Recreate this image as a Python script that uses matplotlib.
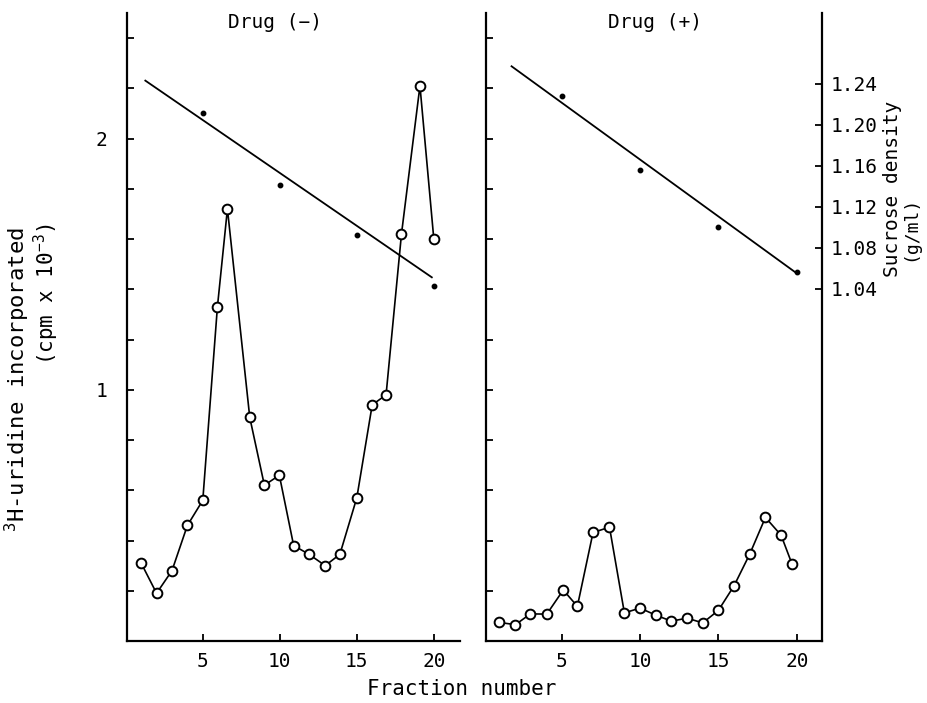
import matplotlib
matplotlib.use('Agg')
import matplotlib.pyplot as plt
import numpy as np

plt.rcParams['font.family'] = ['DejaVu Sans Mono']
plt.rcParams['mathtext.fontset'] = 'custom'
plt.rcParams['mathtext.rm'] = 'DejaVu Sans Mono'
plt.rcParams['mathtext.default'] = 'rm'

# ---- data ----
frac_minus = [1, 2, 3, 4, 5, 5.95, 6.6, 8.05, 9, 9.97, 10.9, 11.9, 12.95, 13.9, 15, 16, 16.9, 17.9, 19.1, 20]
cpm_minus = [0.31, 0.19, 0.28, 0.46, 0.56, 1.33, 1.72, 0.89, 0.62, 0.66, 0.38, 0.345, 0.30, 0.345, 0.57,
             0.94, 0.98, 1.62, 2.21, 1.60]
frac_plus = [1, 2.05, 3, 4.05, 5.1, 6, 7, 8.05, 9, 10, 11, 12, 13, 14, 15, 16, 17, 18, 19, 19.7]
cpm_plus = [0.074, 0.065, 0.108, 0.107, 0.203, 0.138, 0.432, 0.453, 0.112, 0.131, 0.103, 0.079, 0.091,
            0.072, 0.122, 0.22, 0.346, 0.492, 0.421, 0.306]

dens_frac = [5, 10, 15, 20]
dens_minus = [1.211, 1.141, 1.092, 1.043]
dens_plus = [1.228, 1.156, 1.100, 1.056]
fit_frac_minus = [1.27, 19.87]
fit_minus = [1.243, 1.051]
fit_frac_plus = [1.8, 19.9]
fit_plus = [1.257, 1.056]

cpm_ticks = [0.2, 0.4, 0.6, 0.8, 1.0, 1.2, 1.4, 1.6, 1.8, 2.0, 2.2, 2.4]
cpm_ticklabels = ['', '', '', '', '1', '', '', '', '', '2', '', '']
dens_ticks = [1.04, 1.08, 1.12, 1.16, 1.20, 1.24]
dens_ticklabels = ['1.04', '1.08', '1.12', '1.16', '1.20', '1.24']
x_ticks = [5, 10, 15, 20]

W, H = 928, 703
fig = plt.figure(figsize=(W / 100, H / 100), dpi=100)

def px_axes(x0, x1, y0, y1):
    return fig.add_axes([x0 / W, 1 - y1 / H, (x1 - x0) / W, (y1 - y0) / H])

axL = px_axes(127, 460, 13, 641)
axR = px_axes(486, 822, 13, 641)

YLIM = (0, 2.5)
DLIM = (0.696, 1.309)

for ax, xl, fx, fy, dx, dy, lx, ly in [
        (axL, (0.08, 21.7), frac_minus, cpm_minus, dens_frac, dens_minus, fit_frac_minus, fit_minus),
        (axR, (0.17, 21.61), frac_plus, cpm_plus, dens_frac, dens_plus, fit_frac_plus, fit_plus)]:
    ax.set_xlim(*xl)
    ax.set_ylim(*YLIM)
    ax.plot(fx, fy, '-o', color='black', lw=1.2, ms=7, mfc='white', mec='black', mew=1.4,
            zorder=3)
    for s in ['top', 'right']:
        ax.spines[s].set_visible(False)
    for s in ['left', 'bottom']:
        ax.spines[s].set_linewidth(1.6)
    ax.set_xticks(x_ticks)
    ax.set_xticklabels([str(t) for t in x_ticks])
    ax.set_yticks(cpm_ticks)
    ax.set_yticklabels(cpm_ticklabels)
    ax.tick_params(direction='in', length=5, width=1.3, labelsize=14)
    ax.tick_params(axis='x', pad=8)
    ax.tick_params(axis='y', pad=14)

    tw = ax.twinx()
    tw.set_ylim(*DLIM)
    tw.set_xlim(*xl)
    tw.plot(lx, ly, '-', color='black', lw=1.3)
    tw.plot(dx, dy, 'o', color='black', ms=3.2)
    for s in ['top', 'left', 'bottom']:
        tw.spines[s].set_visible(False)
    if ax is axR:
        tw.spines['right'].set_linewidth(1.6)
        tw.set_yticks(dens_ticks)
        tw.set_yticklabels(dens_ticklabels)
        tw.tick_params(direction='in', length=5, width=1.3, labelsize=14, pad=6)
    else:
        tw.spines['right'].set_visible(False)
        tw.set_yticks([])

axR.set_yticklabels([''] * len(cpm_ticks))

fig.text(275 / W, 1 - 23 / H, 'Drug (\u2212)', ha='center', va='center', fontsize=14)
fig.text(655 / W, 1 - 22 / H, 'Drug (+)', ha='center', va='center', fontsize=14)
fig.text(462 / W, 1 - 689 / H, 'Fraction number', ha='center', va='center', fontsize=15)
fig.text(17 / W, 1 - 380 / H, '$^{3}$H-uridine incorporated', ha='center', va='center',
         rotation=90, fontsize=16)
fig.text(46 / W, 1 - 294 / H, '(cpm x 10$^{-3}$)', ha='center', va='center',
         rotation=90, fontsize=15)
fig.text(893 / W, 1 - 189 / H, 'Sucrose density', ha='center', va='center',
         rotation=90, fontsize=14)
fig.text(910 / W, 1 - 228 / H, '(g/ml)', ha='center', va='center',
         rotation=90, fontsize=13)

fig.savefig('out.png', dpi=100)
